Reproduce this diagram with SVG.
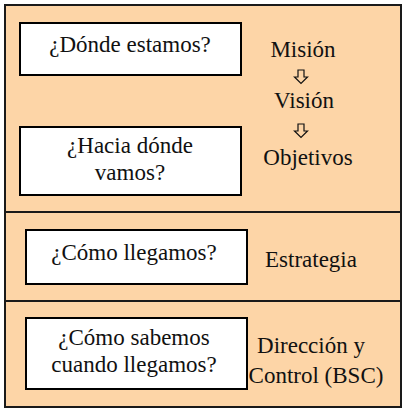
<svg xmlns="http://www.w3.org/2000/svg" width="412" height="414" viewBox="0 0 412 414">
<style>
.panel{fill:#FDD5A7;stroke:#1a1a1a;stroke-width:2}
.box{fill:#ffffff;stroke:#000;stroke-width:2}
.t{font-family:"Liberation Serif","Times New Roman",serif;font-size:23px;fill:#111;text-anchor:middle}
.arr{fill:#FDD5A7;stroke:#111;stroke-width:1.2}
</style>
<g id="panels">
<rect class="panel" x="5" y="5" width="396" height="207"/>
<rect class="panel" x="5" y="212" width="396" height="89"/>
<rect class="panel" x="5" y="301" width="396" height="106"/>
</g>
<g id="node-donde">
<rect class="box" x="20" y="23" width="221" height="52"/>
<text class="t" x="130" y="52">¿Dónde estamos?</text>
</g>
<g id="node-hacia">
<rect class="box" x="20" y="127" width="221" height="68"/>
<text class="t" x="130" y="153">¿Hacia dónde</text>
<text class="t" x="130" y="180">vamos?</text>
</g>
<g id="node-como">
<rect class="box" x="26" y="230" width="221" height="54"/>
<text class="t" x="134" y="260">¿Cómo llegamos?</text>
</g>
<g id="node-sabemos">
<rect class="box" x="26" y="318" width="221" height="71"/>
<text class="t" x="134" y="345">¿Cómo sabemos</text>
<text class="t" x="134" y="372">cuando llegamos?</text>
</g>
<g id="label-mision"><text class="t" x="303" y="57">Misión</text></g>
<g id="label-vision"><text class="t" x="304" y="108">Visión</text></g>
<g id="label-objetivos"><text class="t" x="308" y="165">Objetivos</text></g>
<g id="label-estrategia"><text class="t" x="311" y="267">Estrategia</text></g>
<g id="label-direccion">
<text class="t" x="311" y="353">Dirección y</text>
<text class="t" x="316" y="383">Control (BSC)</text>
</g>
<g id="connectors">
<polygon class="arr" points="298,70 304,70 304,77 307.5,77 301,83.5 294.5,77 298,77"/>
<polygon class="arr" points="298,124 304,124 304,131 307.5,131 301,137.5 294.5,131 298,131"/>
</g>
</svg>
